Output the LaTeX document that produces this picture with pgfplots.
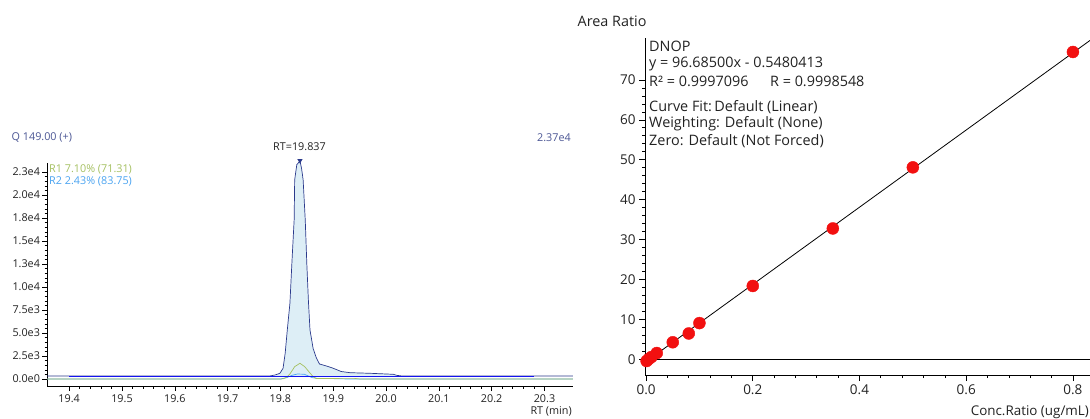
\documentclass[border=0pt]{standalone}
\usepackage{pgfplots}
\pgfplotsset{compat=1.18}
\usepackage{fontspec}
\setmainfont{Open Sans}
\definecolor{navy}{HTML}{2B3A8C}
\definecolor{fillblue}{HTML}{DDEEF6}
\definecolor{basel}{HTML}{1414F0}
\definecolor{rone}{HTML}{A5C062}
\definecolor{rtwo}{HTML}{4AA3F0}
\definecolor{hdr}{HTML}{4B5694}
\definecolor{txt}{HTML}{222222}
\definecolor{dotred}{HTML}{F21010}
\begin{document}
\begin{tikzpicture}[x=1pt,y=1pt]
\useasboundingbox (0,0) rectangle (1090,418);
% ---------------- left: chromatogram ----------------
\begin{axis}[
  at={(47pt,32pt)}, anchor=south west,
  scale only axis, width=526pt, height=223pt,
  xmin=19.358, xmax=20.354, ymin=-761, ymax=23480,
  axis x line*=bottom, axis y line*=left,
  axis line style={-, black, line width=0.8pt},
  tick align=outside,
  major tick length=5pt, minor tick length=2.5pt,
  tick style={black, line width=0.6pt},
  xtick={19.4,19.5,19.6,19.7,19.8,19.9,20.0,20.1,20.2,20.3},
  xticklabels={19.4,19.5,19.6,19.7,19.8,19.9,20.0,20.1,20.2,20.3},
  ytick={0,2500,5000,7500,10000,12500,15000,17500,20000,22500},
  yticklabels={0.0e0,2.5e3,5.0e3,7.5e3,1.0e4,1.3e4,1.5e4,1.8e4,2.0e4,2.3e4},
  minor x tick num=4, minor y tick num=4,
  scaled x ticks=false, scaled y ticks=false,
  tick label style={font=\fontsize{10.8}{11}\selectfont, text=txt},
  yticklabel style={xshift=1.5pt},
  clip=false,
]
% filled peak area
\addplot[draw=none, fill=fillblue] coordinates {
 (19.790,330) (19.799,620) (19.805,1165) (19.809,2800) (19.813,5330) (19.818,8240)
 (19.822,12950) (19.826,17300) (19.827,21650) (19.831,23300) (19.837,23700)
 (19.840,22900) (19.843,21650) (19.847,17300) (19.850,12500) (19.853,8500)
 (19.856,5330) (19.862,3300) (19.868,2300) (19.874,1630) (19.888,1400)
 (19.900,1165) (19.915,815) (19.932,685) (19.970,620) (20.014,510) (20.020,400)
 (20.025,330) (19.790,330)};
% R2 trace
\addplot[rtwo, line width=0.7pt] coordinates {
 (19.358,0) (19.800,0) (19.812,150) (19.822,400) (19.832,540) (19.845,520)
 (19.852,350) (19.860,150) (19.870,60) (19.900,40) (19.930,0) (20.354,0)};
% R1 trace
\addplot[rone, line width=0.7pt] coordinates {
 (19.358,0) (19.800,0) (19.805,20) (19.812,200) (19.818,545) (19.827,1340)
 (19.837,1710) (19.846,1340) (19.856,650) (19.862,250) (19.868,60) (19.880,60)
 (19.940,70) (19.950,0) (20.354,0)};
% main trace
\addplot[navy, line width=0.7pt] coordinates {
 (19.358,330) (19.780,330) (19.790,435) (19.799,620) (19.805,1165) (19.809,2800)
 (19.813,5330) (19.818,8240) (19.822,12950) (19.826,17300) (19.827,21650)
 (19.831,23300) (19.837,23700) (19.840,22900) (19.843,21650) (19.847,17300)
 (19.850,12500) (19.853,8500) (19.856,5330) (19.862,3300) (19.868,2300)
 (19.874,1630) (19.888,1400) (19.900,1165) (19.915,815) (19.932,685)
 (19.970,620) (20.014,510) (20.020,400) (20.030,330) (20.354,330)};
% integration baseline
\addplot[basel, line width=0.9pt] coordinates {(19.400,330) (20.280,330)};
% apex marker
\addplot[only marks, mark=triangle*, mark size=2.6pt, navy,
  mark options={rotate=180}] coordinates {(19.837,23750)};
\end{axis}
\begin{scope}[every node/.style={font=\fontsize{10.8}{11}\selectfont, inner sep=0pt}]
\node[anchor=west, text=hdr] at (11.5,280) {Q 149.00 (+)};
\node[anchor=east, text=hdr] at (571,280) {2.37e4};
\node[text=txt] at (299.5,271.3) {RT=19.837};
\node[anchor=west, text=rone] at (49,249) {R1 7.10\% (71.31)};
\node[anchor=west, text=rtwo] at (49,237) {R2 2.43\% (83.75)};
\node[anchor=east, text=txt] at (572,6.3) {RT (min)};
\end{scope}
% ---------------- right: calibration curve ----------------
\begin{axis}[
  at={(645pt,43pt)}, anchor=south west,
  scale only axis, width=445pt, height=337pt,
  xmin=-0.002, xmax=0.832, ymin=-3.9, ymax=80.5,
  axis x line*=bottom, axis y line*=left,
  axis line style={-, black, line width=1pt},
  tick align=outside,
  major tick length=6pt, minor tick length=3pt,
  tick style={black, line width=0.7pt},
  xtick={0,0.2,0.4,0.6,0.8}, xticklabels={0.0,0.2,0.4,0.6,0.8},
  ytick={0,10,20,30,40,50,60,70}, yticklabels={0,10,20,30,40,50,60,70},
  minor x tick num=4, minor y tick num=4,
  scaled x ticks=false, scaled y ticks=false,
  tick label style={font=\fontsize{13.5}{14}\selectfont, text=txt},
  clip=false,
]
\addplot[black, line width=1pt] coordinates {(-0.002,0) (0.832,0)};
\addplot[only marks, mark=*, mark size=6pt, dotred, mark options={draw=dotred, fill=dotred}]
 coordinates {
 (0.001,-0.4) (0.005,0.1) (0.01,0.6) (0.02,1.6) (0.05,4.3) (0.08,6.5) (0.1,9.1)
 (0.2,18.4) (0.35,32.8) (0.5,48.1) (0.8,77.0)};
\addplot[black, line width=0.8pt] coordinates {(0,-0.548) (0.832,79.89)};
\end{axis}
\begin{scope}[every node/.style={anchor=west, text=txt, font=\fontsize{14.4}{15}\selectfont, inner sep=0pt}]
\node at (577.5,396.3) {Area Ratio};
\node at (649,371.3) {DNOP};
\node at (649,354) {y = 96.68500x - 0.5480413};
\node at (649,336.3) {R² = 0.9997096\hspace{1.5em}R = 0.9998548};
\node at (649,311.3) {Curve Fit:\,Default (Linear)};
\node at (649,294.7) {Weighting: Default (None)};
\node at (649,277) {Zero: Default (Not Forced)};
\end{scope}
\node[anchor=east, text=txt, font=\fontsize{13.4}{14}\selectfont, inner sep=0pt] at (1089,6.3) {Conc.Ratio (ug/mL)};
\end{tikzpicture}
\end{document}
